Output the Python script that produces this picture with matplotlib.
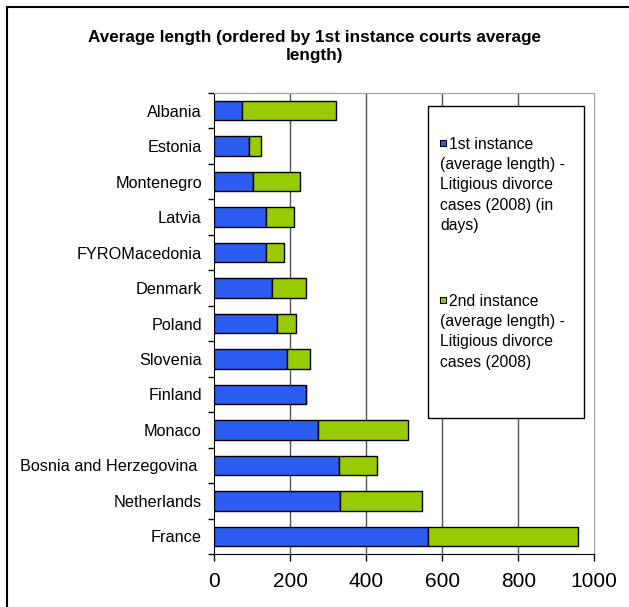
import numpy as np
import matplotlib
matplotlib.use('Agg')
from matplotlib import pyplot as plt
from matplotlib.patches import Rectangle

countries = ['Albania', 'Estonia', 'Montenegro', 'Latvia', 'FYROMacedonia', 'Denmark',
             'Poland', 'Slovenia', 'Finland', 'Monaco', 'Bosnia and Herzegovina ',
             'Netherlands', 'France']
first_instance = [74, 90, 103, 137, 137, 153, 166, 192, 242, 272, 328, 332, 563]
second_instance = [245, 33, 123, 74, 47, 89, 50, 61, 0, 238, 101, 215, 395]
x_ticks = [0, 200, 400, 600, 800, 1000]

title = 'Average length (ordered by 1st instance courts average\nlength)'
label_first = '1st instance\n(average length) -\nLitigious divorce\ncases (2008) (in\ndays)'
label_second = '2nd instance\n(average length) -\nLitigious divorce\ncases (2008)'

plt.rcParams['font.family'] = ['Liberation Sans', 'DejaVu Sans']

width, height, dpi = 629, 607, 100
fig = plt.figure(figsize=(width / dpi, height / dpi), dpi=dpi)


def px(x0, y0, x1, y1):
    # pixel box (top-left origin) -> figure fraction rect
    return [x0 / width, 1 - y1 / height, (x1 - x0) / width, (y1 - y0) / height]


ax = fig.add_axes(px(214.3, 93, 594.3, 554))

blue = '#2c5cf0'
green = '#99cc00'
y = np.arange(len(countries))
bars1 = ax.barh(y, first_instance, height=0.55, color=blue, edgecolor='black', linewidth=1, zorder=3)
bars2 = ax.barh(y, second_instance, left=first_instance, height=0.55, color=green,
                edgecolor='black', linewidth=1, zorder=3)

ax.set_xlim(0, 1000)
ax.set_ylim(len(countries) - 0.5, -0.5)
ax.set_xticks(x_ticks)
ax.set_xticklabels([str(t) for t in x_ticks], fontsize=15)
ax.set_yticks(y)
ax.set_yticklabels(countries, fontsize=11.7)
ax.set_yticks(np.arange(len(countries) + 1) - 0.5, minor=True)
ax.tick_params(axis='y', which='major', length=0, pad=9)
ax.tick_params(axis='y', which='minor', length=4, width=1, direction='out')
ax.tick_params(axis='x', length=5, width=1, direction='out', pad=8)

for x in x_ticks[1:-1]:
    ax.axvline(x, color='#555555', linewidth=1, zorder=1)

ax.spines['left'].set_color('black')
ax.spines['bottom'].set_color('black')
ax.spines['top'].set_color('#a0a0a0')
ax.spines['right'].set_color('#a0a0a0')

fig.text(0.5, 1 - 46.5 / height, title, ha='center', va='center', fontsize=12.3,
         fontweight='bold', linespacing=1.25)

# legend: box, colour squares and wrapped labels (continuation lines start under the square)
fig.patches.append(Rectangle(px(428, 106, 584, 418)[:2], 156 / width, 312 / height,
                             transform=fig.transFigure, facecolor='white',
                             edgecolor='black', linewidth=1, zorder=4))
line_step = 20.3
for color, label, top in [(blue, label_first, 140), (green, label_second, 297)]:
    fig.patches.append(Rectangle(px(440, top, 446, top + 6)[:2], 6 / width, 6 / height,
                                 transform=fig.transFigure, facecolor=color,
                                 edgecolor='black', linewidth=0.8, zorder=5))
    first_line, rest = label.split('\n', 1)
    fig.text(449 / width, 1 - (top - 3) / height, first_line, ha='left', va='top',
             fontsize=11.3, zorder=5)
    fig.text(440.5 / width, 1 - (top - 3 + line_step) / height, rest, ha='left', va='top',
             fontsize=11.3, linespacing=1.43, zorder=5)

# outer chart border
fig.patches.append(Rectangle((7 / width, -0.1), 1.2, 1 - 7 / height + 0.1, transform=fig.transFigure,
                             facecolor='none', edgecolor='black', linewidth=1.5, zorder=0))

plt.savefig('out.png', dpi=dpi)
plt.close()
